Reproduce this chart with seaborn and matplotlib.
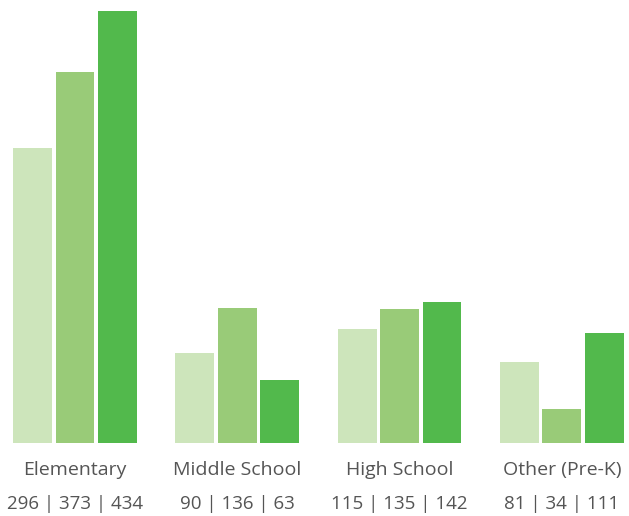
import matplotlib
matplotlib.use("Agg")
import matplotlib.pyplot as plt
import seaborn as sns
import pandas as pd

categories = ["Elementary", "Middle School", "High School", "Other (Pre-K)"]
series_names = ["Year 1", "Year 2", "Year 3"]
year1 = [296, 90, 115, 81]
year2 = [373, 136, 135, 34]
year3 = [434, 63, 142, 111]
colors = ["#cde5bb", "#99cb78", "#52b94c"]

rows = []
for s, vals in zip(series_names, [year1, year2, year3]):
    for c, v in zip(categories, vals):
        rows.append({"category": c, "series": s, "value": v})
df = pd.DataFrame(rows)

sns.set_theme(style="white")
plt.rcParams["font.family"] = ["Open Sans", "DejaVu Sans"]

fig = plt.figure(figsize=(6.29, 5.16), dpi=100)
ax = fig.add_axes([0, 73 / 516, 1, 443 / 516])
sns.barplot(data=df, x="category", y="value", hue="series", palette=colors,
            width=0.785, gap=0.085, saturation=1, linewidth=0, ax=ax, legend=False)

spacing = 162.3
ax.set_xlim(-75 / spacing, -75 / spacing + 629 / spacing)
ax.set_ylim(0, 443 / 0.995)
for sp in ax.spines.values():
    sp.set_visible(False)
ax.set_yticks([])
ax.set_xlabel("")
ax.set_ylabel("")
ax.set_xticks([])

for i, c in enumerate(categories):
    ax.text(i, -27 / 0.995, c, ha="center", va="center", fontsize=14,
            color="#555555")
    ax.text(i, -61 / 0.995, f"{year1[i]} | {year2[i]} | {year3[i]}",
            ha="center", va="center", fontsize=13.5, color="#555555")

fig.savefig("out.png", dpi=100)
